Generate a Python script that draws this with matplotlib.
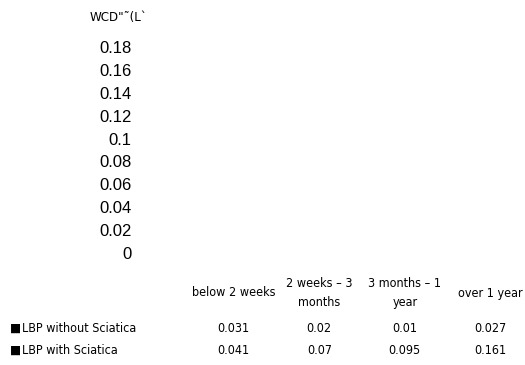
import matplotlib
matplotlib.use("Agg")
import matplotlib.pyplot as plt

# data (bars are blank in the scan, values are in the table)
categories = ["below 2 weeks", "2 weeks \u2013 3\nmonths", "3 months \u2013 1\nyear", "over 1 year"]
series_names = ["LBP without Sciatica", "LBP with Sciatica"]
without_sciatica = [0.031, 0.02, 0.01, 0.027]
with_sciatica = [0.041, 0.07, 0.095, 0.161]
value_labels = [["0.031", "0.02", "0.01", "0.027"],
                ["0.041", "0.07", "0.095", "0.161"]]
yticks = [0, 0.02, 0.04, 0.06, 0.08, 0.1, 0.12, 0.14, 0.16, 0.18]
ytick_labels = ["0", "0.02", "0.04", "0.06", "0.08", "0.1", "0.12", "0.14", "0.16", "0.18"]
title = "WCD\"\u02dc(L`"

COND = dict(fontfamily="DejaVu Sans", fontstretch="condensed")

W, H = 525, 365
fig = plt.figure(figsize=(W / 100, H / 100), dpi=100)
fig.patch.set_facecolor("white")

# axes in pixel terms: x 191..533, y 47..253
ax = fig.add_axes([191 / W, 1 - 253 / H, 342 / W, 206 / H])
ax.set_xlim(-0.5, len(categories) - 0.5)
ax.set_ylim(0, 0.18)

x = list(range(len(categories)))
w = 0.3
# bars drawn white, they are missing in the reference image
ax.bar([i - w / 2 for i in x], without_sciatica, w, color="white")
ax.bar([i + w / 2 for i in x], with_sciatica, w, color="white")

ax.set_yticks(yticks)
ax.set_yticklabels(ytick_labels, fontfamily="Liberation Sans", fontsize=12)
ax.tick_params(axis="y", length=0, pad=43)
ax.set_xticks([])
for s in ax.spines.values():
    s.set_visible(False)

fig.text(90 / W, 1 - 17 / H, title, fontsize=9.5, ha="left", va="center", **COND)

# data table under the plot
tr = ax.get_xaxis_transform()


def fy(py):
    return (253 - py) / 206


for i, c in enumerate(categories):
    ax.text(i, fy(293), c, transform=tr, ha="center", va="center",
            fontsize=9, linespacing=1.55, clip_on=False, **COND)

row_y = [328, 350]
for r, name in enumerate(series_names):
    fig.text(10 / W, 1 - row_y[r] / H, "\u25a0", fontsize=8.5, fontfamily="DejaVu Sans",
             ha="left", va="center")
    fig.text(22 / W, 1 - row_y[r] / H, name, fontsize=9, ha="left", va="center", **COND)
    for i in x:
        ax.text(i, fy(row_y[r]), value_labels[r][i], transform=tr, ha="center",
                va="center", fontsize=9, clip_on=False, **COND)

fig.savefig("out.png", dpi=100)
